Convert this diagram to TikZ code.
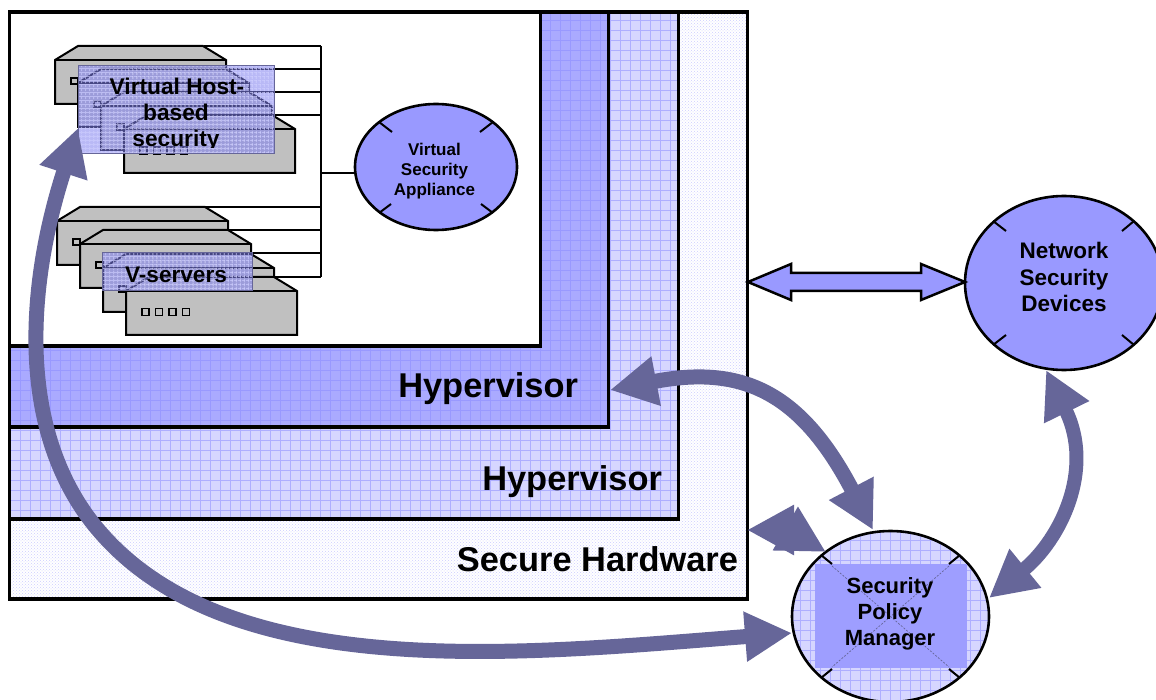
\documentclass[tikz,border=0pt]{standalone}
\usepackage{fontspec}
\setmainfont{Liberation Sans}
\usetikzlibrary{shapes.geometric,arrows.meta,patterns,patterns.meta}
\definecolor{periw}{HTML}{9999FF}
\definecolor{lite}{HTML}{CCCCFF}
\definecolor{arrowc}{HTML}{666699}
\definecolor{srv}{HTML}{C0C0C0}
\definecolor{deepbg}{HTML}{AAAAFF}
\definecolor{midbg}{HTML}{D6D6FF}
\definecolor{midln}{HTML}{AEAEFF}
\definecolor{veilc}{HTML}{8080F0}
\newcommand{\fs}[1]{\fontsize{#1}{#1}\selectfont\bfseries}
\tikzset{
  x=1pt,y=-1pt,
  boxb/.style={draw=black,line width=3.5pt,anchor=north west,inner sep=0pt,outer sep=0pt},
  pale/.style={preaction={fill=white},preaction={pattern={crosshatch dots},pattern color=lite}},
  midf/.style={preaction={fill=midbg},
    preaction={pattern={Lines[angle=0,distance=10pt,line width=.9pt]},pattern color=midln},
    preaction={pattern={Lines[angle=90,distance=10pt,line width=.9pt]},pattern color=midln}},
  deepf/.style={preaction={fill=deepbg},
    preaction={pattern={Lines[angle=0,distance=10pt,line width=.9pt]},pattern color=periw},
    preaction={pattern={Lines[angle=90,distance=10pt,line width=.9pt]},pattern color=periw}},
  wire/.style={draw=black,line width=2.2pt},
  srvp/.style={fill=srv,draw=black,line width=2pt,line join=miter},
  sq/.style={draw=black,fill=none,line width=1.6pt},
  ell/.style={ellipse,draw=black,line width=2.6pt,inner sep=0pt,outer sep=0pt,align=center},
  tick/.style={draw=black,line width=2pt},
  big/.style={draw=arrowc,line width=#1,fill=none},
  hd/.tip={Triangle[length=47pt,width=47pt,fill=arrowc,color=arrowc]},
  veil/.style={anchor=north west,inner sep=0pt,outer sep=0pt,draw=arrowc,line width=1pt,
    preaction={fill=veilc,fill opacity=.55},
    preaction={pattern={Lines[angle=0,distance=4pt,line width=.5pt]},pattern color=lite},
    preaction={pattern={Lines[angle=90,distance=4pt,line width=.5pt]},pattern color=lite}},
  lab/.style={inner sep=0pt,outer sep=0pt,text=black,align=center},
  xline/.style={draw=arrowc,line width=.7pt,dash pattern=on 2pt off 1.5pt}
}
\newcommand{\server}[3]{% x y squares
  \begin{scope}[shift={(#1,#2)}]
    \draw[srvp] (0,14) -- (23,0) -- (148,0) -- (171,14) -- (171,58) -- (0,58) -- cycle;
    \draw[srvp] (0,14) -- (171,14);
    #3
  \end{scope}}
\begin{document}
\begin{tikzpicture}
\useasboundingbox (0,0) rectangle (1156,700);
\fill[white] (0,0) rectangle (1156,700);
% nested layers
\node[boxb,pale,minimum width=738pt,minimum height=587pt] (hw) at (9.5,12) {};
\node[boxb,midf,minimum width=669pt,minimum height=507pt] (hvb) at (9.5,12) {};
\node[boxb,deepf,minimum width=599pt,minimum height=415pt] (hva) at (9.5,12) {};
\node[boxb,fill=white,minimum width=531pt,minimum height=334pt] (vm) at (9.5,12) {};
\node[lab,anchor=base east] (hwl) at (738,571) {\fs{34.4}Secure Hardware};
\node[lab,anchor=base east] (hvbl) at (662,490) {\fs{34.4}Hypervisor};
\node[lab,anchor=base east] (hval) at (578,397) {\fs{34.4}Hypervisor};
% appliance
\node[ell,fill=periw,minimum width=162pt,minimum height=126pt] (vsa) at (436,167) {};
\node[lab,font=\fontsize{17}{20}\selectfont\bfseries] (vsal) at (434.5,171) {Virtual\\Security\\Appliance};
\foreach \a/\b/\c/\d in {379/122/392/132,493/122/480/132,379/213/391/204,493/213/481/204}
  \draw[tick] (\a,\b) -- (\c,\d);
% wires
\coordinate (bus1) at (321,46);
\coordinate (bus2) at (321,277);
\draw[wire] (bus1) -- (bus2);
\draw[wire] (204,46) -- (bus1);
\foreach \y in {69,92,115,207,230,253} \draw[wire] (200,\y) -- (321,\y);
\draw[wire] (200,277) -- (bus2);
\draw[wire] (321,173) -- (vsa.west |- 0,173);
% upper servers
\server{55}{46}{\draw[sq] (16,32) rectangle (23,38);}
\server{78}{69}{\draw[sq] (16,32) rectangle (23,38);}
\server{101}{92}{\draw[sq] (16,32) rectangle (23,38);}
\server{124}{115}{\foreach \q in {16,29.5,43,56.5}\draw[sq] (\q,32) rectangle +(7,7);}
\node[veil,minimum width=196pt,minimum height=88pt] (hostv) at (78,66) {};
\begin{scope}
\clip (78,66) rectangle (274,148);
\node[lab,anchor=base] (hostl1) at (177,95) {\fs{22.7}Virtual Host-};
\node[lab,anchor=base] (hostl2) at (176,121) {\fs{22.7}based};
\node[lab,anchor=base] (hostl3) at (176,147) {\fs{22.7}security};
\end{scope}
% lower servers
\server{57}{207}{\draw[sq] (16,32) rectangle (23,38);}
\server{80}{230}{\draw[sq] (16,32) rectangle (23,38);}
\server{103}{254}{\draw[sq] (16,32) rectangle (23,38);}
\server{126}{277}{\foreach \q in {16,29.5,43,56.5}\draw[sq] (\q,31.5) rectangle +(7,7);}
\node[veil,minimum width=150pt,minimum height=38pt] (vs) at (102,253) {};
\node[lab] (vsl) at (176,275) {\fs{22.6}V-servers};
% network security devices
\node[ell,fill=periw,minimum width=198pt,minimum height=174pt] (nsd) at (1064,283) {};
\node[lab,font=\fontsize{22.5}{26.5}\selectfont\bfseries] (nsdl) at (1064,277) {Network\\Security\\Devices};
\foreach \a/\b/\c/\d in {993/221/1006/231,1134/221/1122/231,993/345/1006/335,1134/345/1122/335}
  \draw[tick] (\a,\b) -- (\c,\d);
% security policy manager
\node[ell,midf,minimum width=197pt,minimum height=171pt] (spm) at (890.5,616.5) {};
\fill[periw!95!white] (815,564) rectangle (967,668);
\draw[xline] (832,566) -- (949,667);
\draw[xline] (949,566) -- (832,667);
\node[lab,font=\fontsize{22}{26}\selectfont\bfseries] (spml) at (890,614) {Security\\Policy\\Manager};
\foreach \a/\b/\c/\d in {821/555/832/564,960/555/949/564,821/678/832/669,960/678/949/669}
  \draw[tick] (\a,\b) -- (\c,\d);
% double arrow
\coordinate (dbl1) at (748,282);
\coordinate (dbl2) at (965,282);
\draw[line width=2.5pt,line join=miter,fill=periw] (dbl1) -- (791,264) -- (791,273) -- (921,273) -- (921,264) -- (dbl2) -- (921,300) -- (921,291) -- (791,291) -- (791,300) -- cycle;
% thick arrows
\coordinate (a1) at (78,128);
\coordinate (a1m) at (88,517);
\coordinate (a1e) at (792,633);
\draw[big=15pt,{hd}-{hd}] (a1) .. controls (35,260) and (10,410) .. (a1m) .. controls (215,688) and (520,654) .. (a1e);
\coordinate (a2) at (610,390);
\coordinate (a2e) at (873,530);
\draw[big=15pt,{hd}-{hd}] (a2) .. controls (740,365) and (800,390) .. (a2e);
\coordinate (a3) at (747,530);
\coordinate (a3e) at (826,552);
\draw[big=15pt,{hd}-{hd}] (a3) .. controls (775,530) and (800,537) .. (a3e);
\coordinate (a4) at (989,598);
\coordinate (a4e) at (1046,370);
\draw[big=14pt,{hd}-{hd}] (a4) .. controls (1060,540) and (1095,470) .. (a4e);
\end{tikzpicture}
\end{document}
